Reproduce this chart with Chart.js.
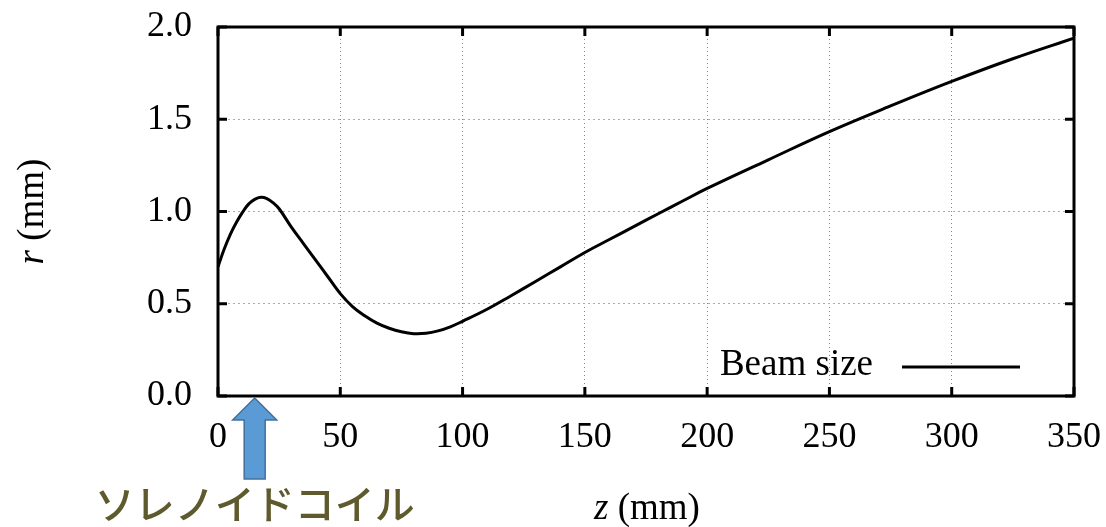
<!DOCTYPE html>
<html>
<head>
<meta charset="utf-8">
<title>Beam size</title>
<script src="https://cdn.jsdelivr.net/npm/chart.js@4.4.1/dist/chart.umd.min.js"></script>
<style>
    html, body { margin: 0; padding: 0; background: #fff; }
    #wrap { width: 1106px; height: 527px; }
</style>
</head>
<body>
<div id="wrap"><canvas id="beamChart" width="1106" height="527"></canvas></div>
<script>
// Beam size data
const zValues = [0, 2.5, 5, 7.5, 10, 12.5, 15, 17.5, 20, 22.5, 25, 30, 35, 40, 45, 50, 55, 60, 65, 70,
                 75, 80, 85, 90, 95, 100, 110, 120, 130, 140, 150, 160, 170, 180, 190, 200, 225, 250,
                 275, 300, 325, 350];
const rValues = [0.70, 0.795, 0.875, 0.94, 0.995, 1.04, 1.066, 1.077, 1.07, 1.048, 1.015, 0.915, 0.825,
                 0.735, 0.645, 0.555, 0.485, 0.435, 0.395, 0.367, 0.348, 0.338, 0.34, 0.353, 0.375,
                 0.405, 0.47, 0.545, 0.622, 0.70, 0.778, 0.848, 0.918, 0.988, 1.057, 1.125, 1.28,
                 1.433, 1.572, 1.705, 1.828, 1.94];
const xTicks = [0, 50, 100, 150, 200, 250, 300, 350];
const yTicks = [0.0, 0.5, 1.0, 1.5, 2.0];
const seriesLabel = 'Beam size';
const coilLabel = 'ソレノイドコイル';
const coilZ = 15;

(function() {
    'use strict';

    const serif = "'Liberation Serif', 'DejaVu Serif', serif";

    // frame, inward ticks, axis titles, legend and the coil arrow
    const decorations = {
        id: 'decorations',
        beforeDraw(chart) {
            const ctx = chart.ctx;
            ctx.save();
            ctx.fillStyle = '#fff';
            ctx.fillRect(0, 0, chart.width, chart.height);
            ctx.restore();
        },
        afterDraw(chart) {
            const ctx = chart.ctx;
            const a = chart.chartArea;
            const xs = chart.scales.x;
            const ys = chart.scales.y;
            const tickLen = 9;

            ctx.save();
            ctx.strokeStyle = '#000';
            ctx.lineWidth = 3;
            ctx.beginPath();
            xTicks.forEach(v => {
                const px = xs.getPixelForValue(v);
                ctx.moveTo(px, a.bottom); ctx.lineTo(px, a.bottom - tickLen);
                ctx.moveTo(px, a.top); ctx.lineTo(px, a.top + tickLen);
            });
            yTicks.forEach(v => {
                const py = ys.getPixelForValue(v);
                ctx.moveTo(a.left, py); ctx.lineTo(a.left + tickLen, py);
                ctx.moveTo(a.right, py); ctx.lineTo(a.right - tickLen, py);
            });
            ctx.stroke();
            ctx.strokeRect(a.left, a.top, a.right - a.left, a.bottom - a.top);

            // legend inside the plot, bottom right
            const ds = chart.data.datasets[0];
            const ly = a.bottom - 29;
            const lineEnd = a.right - 54;
            const lineStart = lineEnd - 118;
            ctx.strokeStyle = ds.borderColor;
            ctx.lineWidth = ds.borderWidth;
            ctx.beginPath();
            ctx.moveTo(lineStart, ly);
            ctx.lineTo(lineEnd, ly);
            ctx.stroke();
            ctx.fillStyle = '#000';
            ctx.font = '37px ' + serif;
            ctx.textAlign = 'right';
            ctx.textBaseline = 'middle';
            ctx.fillText(ds.label, lineStart - 29, ly - 2);

            // axis titles: italic variable + upright unit
            drawTitle(ctx, 'z', ' (mm)', (a.left + a.right) / 2 + 1, 509, 0);
            drawTitle(ctx, 'r', ' (mm)', 33, (a.top + a.bottom) / 2, -Math.PI / 2);

            // arrow pointing at the solenoid coil
            const cx = xs.getPixelForValue(coilZ);
            const tip = a.bottom + 2;
            const headBase = tip + 22;
            const tail = 479;
            ctx.beginPath();
            ctx.moveTo(cx, tip);
            ctx.lineTo(cx + 22, headBase);
            ctx.lineTo(cx + 10.5, headBase);
            ctx.lineTo(cx + 10.5, tail);
            ctx.lineTo(cx - 10.5, tail);
            ctx.lineTo(cx - 10.5, headBase);
            ctx.lineTo(cx - 22, headBase);
            ctx.closePath();
            ctx.fillStyle = '#5b9bd5';
            ctx.fill();
            ctx.strokeStyle = '#41719c';
            ctx.lineWidth = 1.5;
            ctx.stroke();

            ctx.fillStyle = '#5e5a2e';
            ctx.font = "500 40px 'Noto Sans CJK JP', sans-serif";
            ctx.textAlign = 'center';
            ctx.textBaseline = 'middle';
            ctx.fillText(coilLabel, cx, 504);
            ctx.restore();
        }
    };

    function drawTitle(ctx, variable, unit, x, y, rot) {
        ctx.save();
        ctx.translate(x, y);
        ctx.rotate(rot);
        ctx.fillStyle = '#000';
        ctx.textBaseline = 'middle';
        ctx.textAlign = 'left';
        ctx.font = 'italic 37px ' + serif;
        const w1 = ctx.measureText(variable).width;
        ctx.font = '37px ' + serif;
        const w2 = ctx.measureText(unit).width;
        const sx = -(w1 + w2) / 2;
        ctx.font = 'italic 37px ' + serif;
        ctx.fillText(variable, sx, 0);
        ctx.font = '37px ' + serif;
        ctx.fillText(unit, sx + w1, 0);
        ctx.restore();
    }

    new Chart(document.getElementById('beamChart'), {
        type: 'scatter',
        data: {
            datasets: [{
                label: seriesLabel,
                data: zValues.map((z, i) => ({ x: z, y: rValues[i] })),
                showLine: true,
                borderColor: '#000',
                borderWidth: 3,
                pointRadius: 0,
                tension: 0.4,
                fill: false
            }]
        },
        options: {
            responsive: false,
            animation: false,
            layout: { padding: { top: 27, right: 32, left: 0, bottom: 0 } },
            plugins: {
                legend: { display: false },
                tooltip: { enabled: false }
            },
            scales: {
                x: {
                    type: 'linear',
                    min: 0,
                    max: 350,
                    afterFit: s => {
                        s.height = 131;
                        s.paddingLeft = 0;
                        s.paddingRight = 0;
                    },
                    afterBuildTicks: s => { s.ticks = xTicks.map(v => ({ value: v })); },
                    ticks: {
                        color: '#000',
                        padding: 20,
                        maxRotation: 0,
                        font: { size: 36, family: serif },
                        callback: v => String(v)
                    },
                    grid: {
                        color: '#888',
                        lineWidth: 1,
                        drawTicks: false
                    },
                    border: { display: false, dash: [1, 3] }
                },
                y: {
                    min: 0,
                    max: 2,
                    afterFit: s => {
                        s.width = 218;
                        s.paddingTop = 0;
                        s.paddingBottom = 0;
                    },
                    afterBuildTicks: s => { s.ticks = yTicks.map(v => ({ value: v })); },
                    ticks: {
                        color: '#000',
                        padding: 26,
                        font: { size: 36, family: serif },
                        callback: v => v.toFixed(1)
                    },
                    grid: {
                        color: '#aaa',
                        lineWidth: 1,
                        drawTicks: false
                    },
                    border: { display: false, dash: [2, 3] }
                }
            }
        },
        plugins: [decorations]
    });
})();
</script>
</body>
</html>
